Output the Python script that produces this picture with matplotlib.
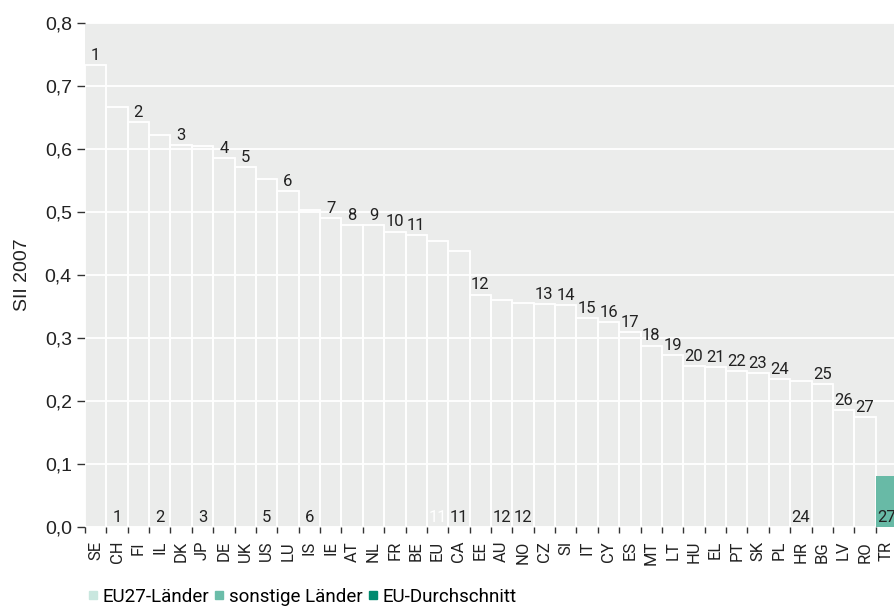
import matplotlib
matplotlib.use("Agg")
import matplotlib.pyplot as plt
from matplotlib.lines import Line2D
import numpy as np

countries = ["SE", "CH", "FI", "IL", "DK", "JP", "DE", "UK", "US", "LU", "IS", "IE", "AT", "NL",
             "FR", "BE", "EU", "CA", "EE", "AU", "NO", "CZ", "SI", "IT", "CY", "ES", "MT", "LT",
             "HU", "EL", "PT", "SK", "PL", "HR", "BG", "LV", "RO", "TR"]
sii = [0.733, 0.666, 0.643, 0.623, 0.606, 0.604, 0.585, 0.571, 0.552, 0.533, 0.503, 0.490, 0.479, 0.479,
       0.469, 0.464, 0.454, 0.438, 0.369, 0.361, 0.356, 0.354, 0.352, 0.332, 0.325, 0.310, 0.288, 0.273,
       0.256, 0.254, 0.247, 0.245, 0.235, 0.231, 0.227, 0.185, 0.175, 0.081]
# rank labels above bars (EU27 members)
top_labels = ["1", "", "2", "", "3", "", "4", "5", "", "6", "", "7", "8", "9",
              "10", "11", "", "", "12", "", "", "13", "14", "15", "16", "17", "18", "19",
              "20", "21", "22", "23", "24", "", "25", "26", "27", ""]
# rank labels at the base (non-EU countries and EU average)
bottom_labels = ["", "1", "", "2", "", "3", "", "", "5", "", "6", "", "", "",
                 "", "", "11", "11", "", "12", "12", "", "", "", "", "", "", "",
                 "", "", "", "", "", "24", "", "", "", "27"]
filled = ["TR"]

legend_labels = ["EU27-Länder", "sonstige Länder", "EU-Durchschnitt"]
legend_colors = ["#c9e7df", "#6bbda9", "#008a6f"]

bg = "#ebeceb"
bar_col = "#68baa6"
txt = "#222222"

fig = plt.figure(figsize=(8.94, 6.07), dpi=100)
ax = fig.add_axes([85 / 894, 80 / 607, 812 / 894, 504 / 607])
ax.set_facecolor(bg)
for s in ax.spines.values():
    s.set_visible(False)

x = np.arange(len(countries))
ax.set_xlim(-0.5, len(countries) - 0.5)
ax.set_ylim(0, 0.8)
yt = np.arange(0, 0.81, 0.1)
ax.set_yticks(yt)
ax.set_yticklabels([f"{v:.1f}".replace(".", ",") for v in yt],
                   family="Liberation Sans", fontsize=14, color=txt)
ax.yaxis.grid(True, color="white", linewidth=1.3)
ax.set_axisbelow(True)
ax.tick_params(axis="y", length=6, width=1, color="#333333", pad=3.5)

ax.set_xticks(x - 0.5)
ax.set_xticklabels([])
ax.tick_params(axis="x", which="major", length=4, width=1, color="#333333")
ax.set_xticks(x, minor=True)
ax.set_xticklabels(countries, minor=True, rotation=90, fontsize=12, family="Roboto", color=txt)
ax.tick_params(axis="x", which="minor", length=0, pad=10)

for i, (c, v) in enumerate(zip(countries, sii)):
    if c in filled:
        ax.bar(i, v, width=1.0, color=bar_col, edgecolor="none", zorder=2)
    else:
        ax.bar(i, v, width=1.0, facecolor="none", edgecolor="white", linewidth=1.3, zorder=2)

for i, (v, t) in enumerate(zip(sii, top_labels)):
    if t:
        ax.annotate(t, (i, v), xytext=(0, 1.5), textcoords="offset points", ha="center", va="bottom",
                    fontsize=12, family="Roboto", color=txt, zorder=3)
for i, (c, t) in enumerate(zip(countries, bottom_labels)):
    if t:
        col = "white" if c == "EU" else txt
        ax.annotate(t, (i, 0), xytext=(0, 1.5), textcoords="offset points", ha="center", va="bottom",
                    fontsize=12, family="Roboto", color=col, zorder=3)

ax.set_ylabel("SII 2007", family="Liberation Sans", fontsize=14, color=txt, labelpad=10)

handles = [Line2D([], [], marker="s", linestyle="none", markersize=6, color=c) for c in legend_colors]
fig.legend(handles, legend_labels, loc="center left", bbox_to_anchor=(80 / 894, 1 - 597 / 607),
           ncol=3, frameon=False, handlelength=0.55, handletextpad=0.25, columnspacing=0.25,
           borderaxespad=0, prop={"family": "Roboto", "size": 13.5})

fig.savefig("out.png", dpi=100)
